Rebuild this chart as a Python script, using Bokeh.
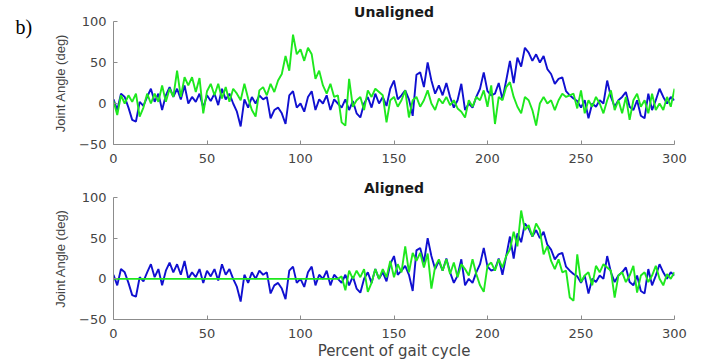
from bokeh.plotting import figure
from bokeh.layouts import column, row
from bokeh.models import Range1d, Label, FixedTicker
from bokeh.embed import file_html
from bokeh.resources import INLINE

# ---------------- data ----------------
x_percent = list(range(0, 301, 2))

blue_joint = [
    5, -8, 12, 8, -5, -20, -22, 2, -3, 8,
    18, 2, 12, -8, 10, 20, 8, 18, 5, 22,
    0, 8, 2, 12, -5, 10, 3, 12, -2, 18,
    5, 12, 0, -10, -28, 5, -5, 8, 0, 10,
    5, 8, -18, -8, -5, -12, -25, 10, 15, -5,
    0, -10, 8, 15, -8, 5, 0, 10, -8, 5,
    0, -5, 5, -8, 3, -12, -17, 0, 8, -5,
    12, 0, 8, -3, 18, 28, 5, 10, 16, 5,
    -15, 35, 38, 20, 50, 28, 12, 22, 10, 25,
    8, -5, 4, 24, -8, 0, -5, 8, 18, 38,
    15, 10, 12, 25, 5, 28, 52, 25, 56, 45,
    68, 62, 52, 60, 50, 58, 42, 36, 24, 30,
    32, 15, 10, 6, 3, -5, 4, -18, 0, -4,
    4, 0, 28, 8, -4, 4, 8, 14, -4, -8,
    4, -15, -18, 12, -8, 4, 18, 8, 0, 8,
    4,
]

green_unaligned = [
    3, -14, 10, 0, 10, 2, 12, -16, -5, 12,
    0, 12, 2, 22, 2, 18, 8, 40, 8, 32,
    22, 32, 14, 31, -12, 15, 24, 10, 24, 6,
    20, 2, 18, 12, 4, 24, 6, -8, -16, 16,
    20, 10, 24, 14, 28, 36, 58, 40, 84, 60,
    66, 52, 68, 60, 30, 40, 22, 12, 24, 8,
    10, -23, -27, 30, -4, 4, 8, -8, 16, 8,
    18, 14, 10, -23, 4, 8, -4, 4, 16, -17,
    4, 8, -4, 4, 16, 0, -8, 6, 0, 8,
    -2, 4, -6, -10, -17, 4, -4, 8, 4, 16,
    -4, 22, -25, 8, 4, 20, 26, 8, -4, -12,
    8, 4, -8, -27, 0, 8, 0, 4, -8, 4,
    12, 8, 10, 12, -6, 16, -12, 4, -4, 8,
    0, -12, 4, 16, -8, 4, -12, 8, -20, 4,
    12, -4, 4, -12, 12, -8, 0, -8, 8, -4,
    18,
]

green_aligned = [0] * 61 + [
    3, -14, 10, 0, 10, 2, 12, -16, -5, 12,
    0, 12, 2, 22, 2, 18, 8, 40, 8, 32,
    22, 32, 14, 31, -12, 15, 24, 10, 24, 6,
    20, 2, 18, 12, 4, 24, 6, -8, -16, 16,
    20, 10, 24, 14, 28, 36, 58, 40, 84, 60,
    66, 52, 68, 60, 30, 40, 22, 12, 24, 8,
    10, -23, -27, 30, -4, 4, 8, -8, 16, 8,
    18, 14, 10, -23, 4, 8, -4, 4, 16, -17,
    4, 8, -4, 4, 16, 0, -8, 6, 0, 8,
]

x_ticks = [0, 50, 100, 150, 200, 250, 300]
y_ticks = [-50, 0, 50, 100]
panel_titles = ["Unaligned", "Aligned"]
y_label = "Joint Angle (deg)"
x_label = "Percent of gait cycle"
panel_tag = "b)"

BLUE = "#1010d0"
GREEN = "#1ee81e"
AXIS = "#8c8c8c"
TXT = "#444444"

MAIN_W = 660


def make_panel(height, b_top, b_bottom, title, green, with_xlabel):
    p = figure(width=MAIN_W, height=height, output_backend="svg",
               toolbar_location=None,
               x_range=Range1d(0, 300), y_range=Range1d(-50, 100),
               min_border_left=73, min_border_right=26,
               min_border_top=b_top, min_border_bottom=b_bottom)
    p.outline_line_color = None
    p.xgrid.visible = False
    p.ygrid.visible = False
    p.background_fill_color = "white"
    p.border_fill_color = "white"

    p.title.text = title
    p.title.align = "center"
    p.title.text_font = "DejaVu Sans"
    p.title.text_font_style = "bold"
    p.title.text_font_size = "14px"
    p.title.text_color = "#1a1a1a"
    p.title.standoff = 3

    p.line(x_percent, blue_joint, line_color=BLUE, line_width=1.9)
    p.line(x_percent, green, line_color=GREEN, line_width=1.9)

    for ax, ticks in ((p.xaxis, x_ticks), (p.yaxis, y_ticks)):
        ax.ticker = FixedTicker(ticks=ticks)
        ax.axis_line_color = AXIS
        ax.major_tick_line_color = AXIS
        ax.major_tick_in = 4
        ax.major_tick_out = 0
        ax.minor_tick_line_color = None
        ax.major_label_text_font = "DejaVu Sans"
        ax.major_label_text_font_size = "13px"
        ax.major_label_text_color = TXT

    p.xaxis.major_label_standoff = 9
    p.yaxis.major_label_standoff = 7

    p.yaxis.axis_label = y_label
    p.yaxis.axis_label_text_font = "Liberation Sans"
    p.yaxis.axis_label_text_font_size = "13px"
    p.yaxis.axis_label_text_font_style = "normal"
    p.yaxis.axis_label_text_color = TXT
    p.yaxis.axis_label_standoff = 8

    if with_xlabel:
        p.xaxis.axis_label = x_label
        p.xaxis.axis_label_text_font = "DejaVu Sans"
        p.xaxis.axis_label_text_font_size = "15px"
        p.xaxis.axis_label_text_font_style = "normal"
        p.xaxis.axis_label_text_color = TXT
        p.xaxis.axis_label_standoff = 1
    return p


top = make_panel(174, 21, 30, panel_titles[0], green_unaligned, False)
bottom = make_panel(188, 23, 42, panel_titles[1], green_aligned, True)

# small blank panel on the left that carries the "b)" tag
tag = figure(width=40, height=174, output_backend="svg", toolbar_location=None,
             x_range=Range1d(0, 40), y_range=Range1d(0, 174),
             min_border_left=0, min_border_right=0, min_border_top=0,
             min_border_bottom=0)
tag.axis.visible = False
tag.grid.visible = False
tag.outline_line_color = None
tag.add_layout(Label(x=15, y=148, text=panel_tag, text_align="left",
                     text_baseline="alphabetic", text_font="Liberation Serif",
                     text_font_size="20px", text_color="black"))

layout = row(tag, column(top, bottom, spacing=0), spacing=0)

open("out.html", "w").write(file_html(layout, INLINE))
